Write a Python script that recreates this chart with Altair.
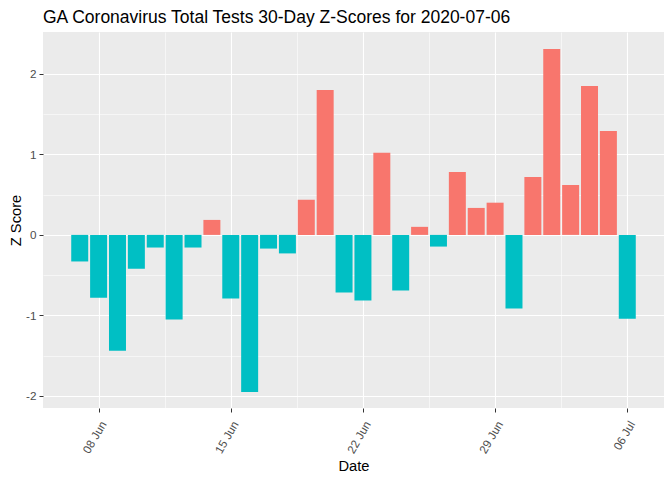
import altair as alt
import pandas as pd

dates = [
    "2020-06-07", "2020-06-08", "2020-06-09", "2020-06-10", "2020-06-11",
    "2020-06-12", "2020-06-13", "2020-06-14", "2020-06-15", "2020-06-16",
    "2020-06-17", "2020-06-18", "2020-06-19", "2020-06-20", "2020-06-21",
    "2020-06-22", "2020-06-23", "2020-06-24", "2020-06-25", "2020-06-26",
    "2020-06-27", "2020-06-28", "2020-06-29", "2020-06-30", "2020-07-01",
    "2020-07-02", "2020-07-03", "2020-07-04", "2020-07-05", "2020-07-06",
]
zscores = [
    -0.33, -0.78, -1.44, -0.42, -0.157,
    -1.05, -0.157, 0.186, -0.79, -1.95,
    -0.17, -0.23, 0.435, 1.80, -0.716,
    -0.816, 1.02, -0.69, 0.10, -0.145,
    0.78, 0.335, 0.40, -0.915, 0.72,
    2.31, 0.62, 1.85, 1.29, -1.04,
]

df = pd.DataFrame({"date": dates, "z": zscores})

FONT = "Liberation Sans"

x_values = [
    alt.DateTime(year=2020, month=6, date=8, utc=True),
    alt.DateTime(year=2020, month=6, date=11, hours=12, utc=True),
    alt.DateTime(year=2020, month=6, date=15, utc=True),
    alt.DateTime(year=2020, month=6, date=18, hours=12, utc=True),
    alt.DateTime(year=2020, month=6, date=22, utc=True),
    alt.DateTime(year=2020, month=6, date=25, hours=12, utc=True),
    alt.DateTime(year=2020, month=6, date=29, utc=True),
    alt.DateTime(year=2020, month=7, date=2, hours=12, utc=True),
    alt.DateTime(year=2020, month=7, date=6, utc=True),
]
x_domain = [
    alt.DateTime(year=2020, month=6, date=5, hours=1, minutes=19, utc=True),
    alt.DateTime(year=2020, month=7, date=7, hours=22, minutes=41, utc=True),
]
y_values = [-2, -1.5, -1, -0.5, 0, 0.5, 1, 1.5, 2]

major_x = "utchours(datum.value) == 0"
major_y = "datum.value == round(datum.value)"

chart = (
    alt.Chart(df)
    .transform_calculate(
        start="toDate(datum.date) - 0.45 * 86400000",
        end="toDate(datum.date) + 0.45 * 86400000",
        pos="datum.z > 0 ? 'pos' : 'neg'",
    )
    .mark_bar()
    .encode(
        x=alt.X(
            "start:T",
            title="Date",
            scale=alt.Scale(type="utc", domain=x_domain, nice=False),
            axis=alt.Axis(
                values=x_values,
                format="%d %b",
                formatType="utc",
                labelExpr=f"{major_x} ? utcFormat(datum.value, '%d %b') : ''",
                labelAngle=-60,
                labelAlign="right",
                labelBaseline="top",
                labelPadding=7,
                tickSize=4,
                tickColor={"condition": {"test": major_x, "value": "#333333"}, "value": "transparent"},
                gridWidth={"condition": {"test": major_x, "value": 1.1}, "value": 0.55},
            ),
        ),
        x2="end:T",
        y=alt.Y(
            "z:Q",
            title="Z Score",
            scale=alt.Scale(domain=[-2.15, 2.52], nice=False, zero=False),
            axis=alt.Axis(
                values=y_values,
                labelExpr=f"{major_y} ? toString(datum.value) : ''",
                tickSize=4,
                labelPadding=3,
                tickColor={"condition": {"test": major_y, "value": "#333333"}, "value": "transparent"},
                gridWidth={"condition": {"test": major_y, "value": 1.1}, "value": 0.55},
            ),
        ),
        y2=alt.datum(0),
        color=alt.Color(
            "pos:N",
            scale=alt.Scale(domain=["pos", "neg"], range=["#F8766D", "#00BFC4"]),
            legend=None,
        ),
    )
    .properties(
        width=621,
        height=376,
        title=alt.TitleParams(
            "GA Coronavirus Total Tests 30-Day Z-Scores for 2020-07-06",
            anchor="start",
            frame="group",
            font=FONT,
            fontSize=17.5,
            fontWeight="normal",
            color="#000000",
            offset=6,
        ),
        autosize=alt.AutoSizeParams(type="none"),
        padding={"left": 35, "top": 24, "right": 0, "bottom": 68},
    )
    .configure_view(fill="#EBEBEB", stroke=None)
    .configure_axis(
        grid=True,
        gridColor="#FFFFFF",
        domain=False,
        labelFont=FONT,
        labelFontSize=11.7,
        labelColor="#4D4D4D",
        titleFont=FONT,
        titleFontSize=14.7,
        titleFontWeight="normal",
        titleColor="#000000",
    )
    .configure_axisX(titlePadding=3)
    .configure_axisY(titlePadding=2)
)

chart.save("out.html", embed_options={"renderer": "svg", "actions": False})
